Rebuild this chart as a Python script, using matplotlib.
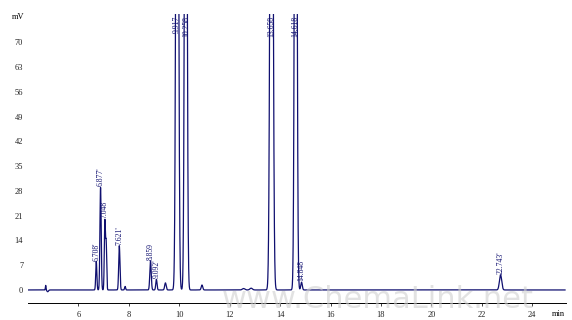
import numpy as np
import matplotlib.pyplot as plt

plt.rcParams['font.family'] = ['Liberation Serif', 'DejaVu Serif']

# peaks of the chromatogram: retention time (min), height (mV), width (sigma, min)
rt = np.array([4.70, 6.708, 6.877, 7.048, 7.10, 7.621, 7.85, 8.859, 9.092, 9.45,
               9.917, 10.258, 10.90, 12.55, 12.85, 13.658, 14.618, 14.848, 22.743])
height = np.array([1.3, 8.0, 29.0, 19.5, 13.0, 12.5, 1.0, 8.2, 3.0, 2.0,
                   250.0, 250.0, 1.4, 0.4, 0.5, 250.0, 250.0, 2.2, 4.3])
sigma = np.array([0.012, 0.022, 0.025, 0.022, 0.02, 0.025, 0.02, 0.028, 0.025, 0.03,
                  0.045, 0.042, 0.03, 0.05, 0.05, 0.05, 0.042, 0.03, 0.045])

# labelled peaks
label_rt = [6.708, 6.877, 7.048, 7.621, 8.859, 9.092, 9.917, 10.258,
            13.658, 14.618, 14.848, 22.743]
label_txt = ["6.708'", "6.877'", "7.048", "7.621'", "8.859", "9.092'", "9.917", "10.258",
             "13.658", "14.618", "14.848", "22.743'"]

x = np.linspace(4.0, 25.3, 8000)
y = np.zeros_like(x)
for t, h, s in zip(rt, height, sigma):
    y += h * np.exp(-0.5 * ((x - t) / s) ** 2)
# small dip after the injection blip
y -= 0.5 * np.exp(-0.5 * ((x - 4.78) / 0.03) ** 2)

navy = '#101070'
fig = plt.figure(figsize=(5.72, 3.2), dpi=100)
ax = fig.add_axes([0.049, 0.053, 0.941, 0.903])
ax.plot(x, y, color=navy, lw=0.9)
ax.set_xlim(4.0, 25.35)
ax.set_ylim(-3.7, 78)

ax.set_xticks(range(6, 25, 2))
ax.set_yticks(range(0, 71, 7))
ax.tick_params(labelsize=6, length=2, width=0.6, colors='#222222')
ax.tick_params(axis='y', length=0)
for s in ['top', 'right', 'left']:
    ax.spines[s].set_visible(False)
ax.spines['bottom'].set_linewidth(0.7)

ax.text(-0.03, 0.99, 'mV', transform=ax.transAxes, fontsize=6, va='center', ha='left')
ax.text(0.985, -0.025, 'min', transform=ax.transAxes, fontsize=6, va='top', ha='center')

for t, txt in zip(label_rt, label_txt):
    i = np.argmin(np.abs(x - t))
    top = y[i]
    if top > 75:
        ax.text(t, 77.5, txt, rotation=90, fontsize=5.5, color=navy,
                ha='center', va='top')
    else:
        ax.text(t, top + 0.3, txt, rotation=90, fontsize=5.5, color=navy,
                ha='center', va='bottom')

# watermark
fig.text(0.66, 0.02, 'www.ChemaLink.net', fontsize=22, color='#d0d0d0',
         ha='center', va='bottom', family='DejaVu Sans', alpha=0.6)

fig.savefig('out.png', dpi=100)
